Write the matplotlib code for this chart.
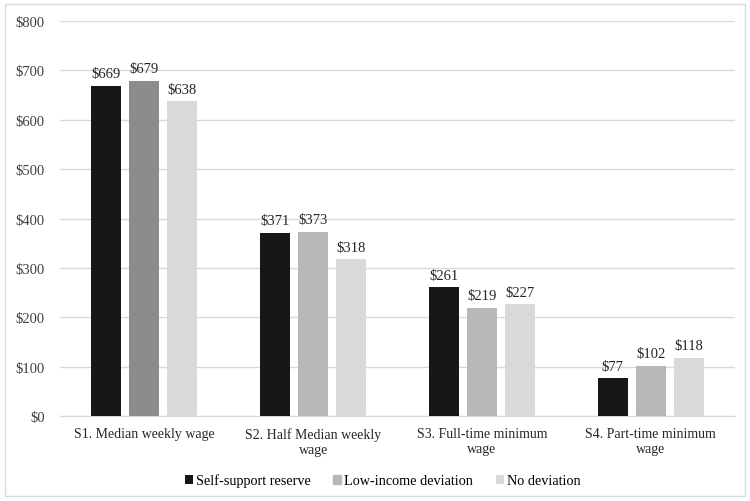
import matplotlib

matplotlib.use("Agg")
import matplotlib.pyplot as plt
from matplotlib.patches import Rectangle
import numpy as np

# Weekly amounts per scenario, one list per series.
categories = [
    "S1. Median weekly wage",
    "S2. Half Median weekly\nwage",
    "S3. Full-time minimum\nwage",
    "S4. Part-time minimum\nwage",
]
series_names = ["Self-support reserve", "Low-income deviation", "No deviation"]
self_support = [669, 371, 261, 77]
low_income = [679, 373, 219, 102]
no_deviation = [638, 318, 227, 118]
y_ticks = [0, 100, 200, 300, 400, 500, 600, 700, 800]

plt.rcParams["font.family"] = ["Liberation Serif", "DejaVu Serif"]
plt.rcParams["font.size"] = 10.5

fig = plt.figure(figsize=(7.5, 5.02), dpi=100)
ax = fig.add_axes([0.08, 0.169, 0.90, 0.787])

# Light frame round the whole figure.
fig.patches.append(
    Rectangle((0.007, 0.01), 0.986, 0.98, transform=fig.transFigure,
              fill=False, edgecolor="#d9d9d9", linewidth=1)
)

x = np.arange(len(categories))
width = 0.178
step = 0.225
colors = ["#171717", "#b8b8b8", "#d9d9d9"]
all_series = [self_support, low_income, no_deviation]

for i, (name, values, color) in enumerate(zip(series_names, all_series, colors)):
    bar_colors = [color] * len(values)
    if i == 1:
        # the first low-income bar is drawn darker
        bar_colors[0] = "#8c8c8c"
    bars = ax.bar(x + (i - 1) * step, values, width, color=bar_colors,
                  label=name, zorder=3)
    for rect, v in zip(bars, values):
        ax.annotate(f"${v}", (rect.get_x() + rect.get_width() / 2, v),
                    xytext=(0, 4), textcoords="offset points",
                    ha="center", va="bottom", fontsize=10.5, color="#262626")

ax.set_xlim(-0.5, len(categories) - 0.5)
ax.set_ylim(0, 800)
ax.set_yticks(y_ticks)
ax.set_yticklabels([f"${t}" for t in y_ticks], color="#404040")
ax.set_xticks(x)
ax.set_xticklabels(categories, color="#262626", fontsize=10)
ax.tick_params(length=0)
ax.tick_params(axis="y", pad=11)
ax.tick_params(axis="x", pad=8)
ax.yaxis.grid(True, color="#d9d9d9", linewidth=1, zorder=0)
for side in ["top", "right", "left"]:
    ax.spines[side].set_visible(False)
ax.spines["bottom"].set_color("#d9d9d9")

legend = ax.legend(loc="center", bbox_to_anchor=(0.478, -0.163), ncol=3,
                   frameon=False, handlelength=0.55, handleheight=0.55,
                   handletextpad=0.2, columnspacing=1.6, fontsize=10.3)
# legend swatch for the middle series uses the regular grey
legend.legend_handles[1].set_color("#b8b8b8")

fig.savefig("out.png", dpi=100)
